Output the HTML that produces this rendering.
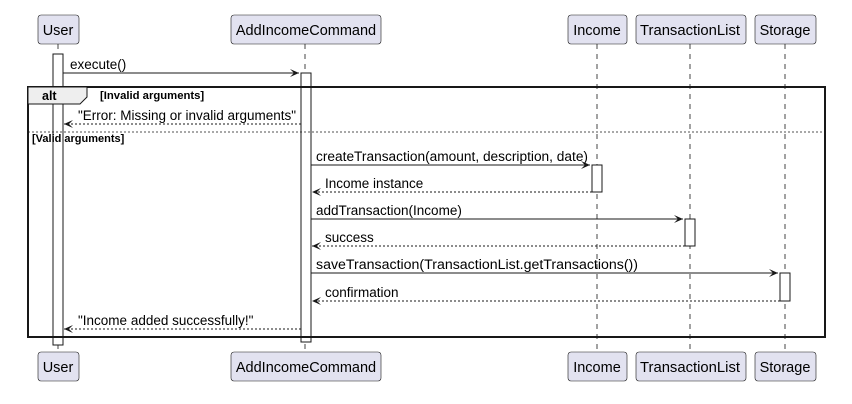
<!DOCTYPE html>
<html><head><style>body{margin:0;background:#fff}svg{display:block;font-family:"Liberation Sans",sans-serif}</style></head><body>
<svg width="852" height="404" viewBox="0 0 852 404" xmlns="http://www.w3.org/2000/svg">
<defs><marker id="a" markerWidth="10" markerHeight="10" refX="9" refY="5" orient="auto" markerUnits="userSpaceOnUse"><path d="M0,1 L9,5 L0,9 L4,5 Z" fill="#181818"/></marker></defs>
<g stroke="#181818" stroke-width="0.8" stroke-dasharray="5,5">
<line x1="58" y1="44" x2="58" y2="352"/><line x1="305" y1="44" x2="305" y2="352"/><line x1="597" y1="44" x2="597" y2="352"/><line x1="690" y1="44" x2="690" y2="352"/><line x1="785" y1="44" x2="785" y2="352"/></g>
<g fill="#fff" stroke="#181818" stroke-width="1">
<rect x="53" y="54" width="10" height="291"/><rect x="301" y="73" width="10" height="269"/>
<rect x="592" y="165" width="10" height="27"/><rect x="685" y="219" width="10" height="27"/><rect x="780" y="273" width="10" height="28"/></g>
<g fill="#E2E2F0" stroke="#181818" stroke-width="0.6">
<rect x="38" y="15" width="41" height="29" rx="3"/><rect x="231" y="15" width="150" height="29" rx="3"/><rect x="568" y="15" width="59" height="29" rx="3"/><rect x="636" y="15" width="110" height="29" rx="3"/><rect x="755" y="15" width="61" height="29" rx="3"/>
<rect x="38" y="352" width="41" height="29" rx="3"/><rect x="231" y="352" width="150" height="29" rx="3"/><rect x="568" y="352" width="59" height="29" rx="3"/><rect x="636" y="352" width="110" height="29" rx="3"/><rect x="755" y="352" width="61" height="29" rx="3"/></g>
<g font-size="14.5" fill="#000" text-anchor="middle">
<text x="58" y="35">User</text><text x="306" y="35">AddIncomeCommand</text><text x="597" y="35">Income</text><text x="690" y="35" textLength="100" lengthAdjust="spacingAndGlyphs">TransactionList</text><text x="785" y="35">Storage</text>
<text x="58" y="372">User</text><text x="306" y="372">AddIncomeCommand</text><text x="597" y="372">Income</text><text x="690" y="372" textLength="100" lengthAdjust="spacingAndGlyphs">TransactionList</text><text x="785" y="372">Storage</text></g>
<rect x="28" y="87" width="797" height="250" fill="none" stroke="#181818" stroke-width="2"/>
<path d="M28,87 H87 V97 L80,104 H28 Z" fill="#EEE" stroke="#181818" stroke-width="1"/>
<text x="42" y="100" font-size="12.5" font-weight="bold">alt</text>
<text x="100" y="99" font-size="11.3" font-weight="bold">[Invalid arguments]</text>
<line x1="28" y1="132" x2="825" y2="132" stroke="#181818" stroke-width="0.8" stroke-dasharray="2,2"/>
<text x="32" y="142" font-size="11" font-weight="bold">[Valid arguments]</text>
<g stroke="#181818" stroke-width="1" fill="none">
<line x1="63" y1="73" x2="299" y2="73" marker-end="url(#a)"/>
<line x1="311" y1="165" x2="590" y2="165" marker-end="url(#a)"/>
<line x1="311" y1="219" x2="683" y2="219" marker-end="url(#a)"/>
<line x1="311" y1="273" x2="778" y2="273" marker-end="url(#a)"/>
<g stroke-dasharray="2,2">
<line x1="301" y1="124" x2="64" y2="124" marker-end="url(#a)"/>
<line x1="592" y1="192" x2="312" y2="192" marker-end="url(#a)"/>
<line x1="685" y1="246" x2="312" y2="246" marker-end="url(#a)"/>
<line x1="780" y1="301" x2="312" y2="301" marker-end="url(#a)"/>
<line x1="301" y1="329" x2="64" y2="329" marker-end="url(#a)"/>
</g></g>
<g font-size="13.5" fill="#000">
<text x="70" y="69">execute()</text>
<text x="78" y="120" textLength="218" lengthAdjust="spacingAndGlyphs">"Error: Missing or invalid arguments"</text>
<text x="316" y="161" textLength="272" lengthAdjust="spacingAndGlyphs">createTransaction(amount, description, date)</text>
<text x="325" y="188">Income instance</text>
<text x="316" y="215">addTransaction(Income)</text>
<text x="325" y="242">success</text>
<text x="316" y="269" textLength="322" lengthAdjust="spacingAndGlyphs">saveTransaction(TransactionList.getTransactions())</text>
<text x="325" y="297">confirmation</text>
<text x="78" y="325">"Income added successfully!"</text>
</g>
</svg>
</body></html>
